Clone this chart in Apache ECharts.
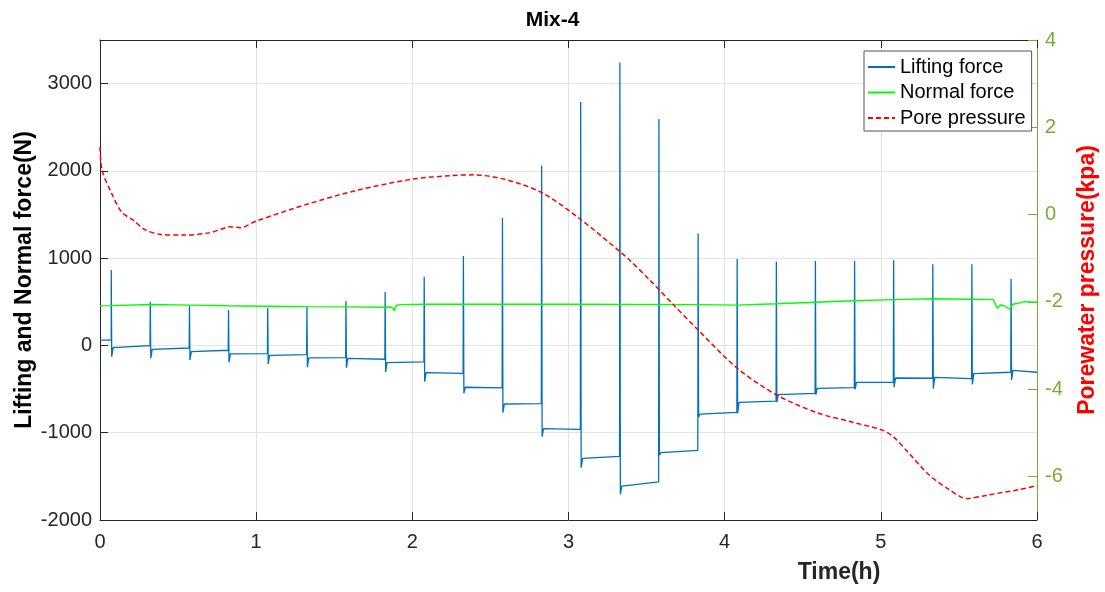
<!DOCTYPE html>
<html>
<head>
<meta charset="utf-8">
<title>Mix-4</title>
<script src="https://cdn.jsdelivr.net/npm/echarts@6/dist/echarts.min.js"></script>
<style>
  html, body { margin: 0; padding: 0; background: #ffffff; }
  #chart { width: 1105px; height: 592px; }
</style>
</head>
<body>
<div id="chart"></div>
<script>
// ---- Lifting force: loading cycles (h, N) ----
const initialLift = 60;
const spikeTimes = [0.072, 0.322, 0.573, 0.823, 1.074, 1.325, 1.575, 1.826, 2.076, 2.327, 2.577, 2.828,
                    3.078, 3.329, 3.579, 3.830, 4.080, 4.331, 4.581, 4.832, 5.082, 5.333, 5.583, 5.834];
const spikePeaks = [866, 502, 453, 407, 430, 445, 510, 613, 786, 1026, 1459, 2062,
                    2789, 3243, 2594, 1282, 992, 961, 969, 969, 975, 931, 931, 763];
const spikeTroughs = [-128, -147, -166, -193, -212, -250, -254, -304, -415, -548, -770, -1046,
                      -1401, -1706, -1256, -823, -778, -650, -564, -502, -479, -495, -445, -396];
const levelStart = [-25, -44, -71, -97, -113, -143, -147, -197, -312, -479, -671, -954,
                    -1294, -1611, -1229, -786, -652, -564, -491, -422, -373, -365, -323, -285];
const levelEnd = [-2, -29, -55, -94, -105, -140, -158, -189, -319, -487, -667, -961,
                  -1271, -1562, -1202, -766, -637, -548, -484, -422, -376, -381, -307, -307];

// ---- Normal force (h, N) ----
const normalTime = [0, 0.072, 0.073, 0.322, 0.573, 0.823, 1.074, 1.325, 1.575, 1.826, 1.86, 1.875, 1.885,
                    1.895, 1.92, 2.076, 3.0, 3.83, 4.079, 4.081, 4.33, 4.332, 4.58, 4.582, 4.83, 4.833,
                    5.08, 5.083, 5.33, 5.58, 5.72, 5.745, 5.765, 5.79, 5.80, 5.825, 5.845, 5.87, 5.92, 6.0];
const normalForce = [453, 456, 476, 470, 462, 455, 450, 445, 442, 438, 440, 430, 396,
                     455, 468, 472, 472, 468, 462, 476, 478, 491, 495, 510, 512, 522,
                     525, 533, 535, 530, 525, 427, 464, 455, 440, 415, 472, 480, 502, 495];

// ---- Pore water pressure (h, kPa) ----
const poreTime = [0, 0.013, 0.07, 0.14, 0.21, 0.29, 0.38, 0.54, 0.70, 0.78, 0.83, 0.90, 1.0, 1.33, 1.65,
                  2.0, 2.24, 2.39, 2.61, 2.83, 3.07, 3.33, 3.39, 3.52, 3.67, 3.82, 4.08, 4.33, 4.59,
                  4.82, 5.01, 5.08, 5.17, 5.31, 5.44, 5.55, 5.68, 5.89, 6.0];
const porePressure = [1.55, 1.02, 0.52, 0.05, -0.12, -0.35, -0.45, -0.47, -0.42, -0.33, -0.28, -0.30, -0.15, 0.24, 0.56,
                      0.81, 0.89, 0.91, 0.79, 0.50, -0.09, -0.85, -1.04, -1.50, -2.06, -2.61, -3.52, -4.13, -4.54,
                      -4.76, -4.94, -5.09, -5.43, -5.97, -6.31, -6.51, -6.43, -6.30, -6.21];

// ---- Axis tick values ----
const timeTicks = [0, 1, 2, 3, 4, 5, 6];
const forceTicks = [-2000, -1000, 0, 1000, 2000, 3000];
const pressureTicks = [-6, -4, -2, 0, 2, 4];

// Build the lifting-force trace: each cycle jumps up to its peak, drops to the trough,
// then settles on the new holding level until the next cycle.
const liftingData = [[0, initialLift]];
let prev = initialLift;
for (let k = 0; k < spikeTimes.length; k++) {
  const t = spikeTimes[k];
  const next = k + 1 < spikeTimes.length ? spikeTimes[k + 1] - 0.002 : 6;
  liftingData.push([t, prev]);
  liftingData.push([t, spikePeaks[k]]);
  liftingData.push([t + 0.003, spikeTroughs[k]]);
  liftingData.push([t + 0.012, levelStart[k]]);
  liftingData.push([next, levelEnd[k]]);
  prev = levelEnd[k];
}
const normalData = normalTime.map((t, i) => [t, normalForce[i]]);
const poreData = poreTime.map((t, i) => [t, porePressure[i]]);

const FONT = 'Liberation Sans, Arial, Helvetica, sans-serif';
const DARK = '#262626';
const GRID = '#e3e3e3';
const RIGHT_COLOR = '#77AC30';
const plain = v => String(v);

const chart = echarts.init(document.getElementById('chart'), null, { renderer: 'canvas' });
chart.setOption({
  animation: false,
  backgroundColor: '#ffffff',
  textStyle: { fontFamily: FONT },
  title: {
    text: 'Mix-4',
    left: 'center',
    top: 5,
    textStyle: { fontFamily: FONT, fontSize: 21, fontWeight: 'bold', color: '#000' }
  },
  legend: {
    orient: 'vertical',
    left: 864,
    top: 51,
    padding: [6, 6, 3, 3],
    itemGap: 5.5,
    itemWidth: 27,
    itemHeight: 20,
    backgroundColor: '#ffffff',
    borderColor: '#555555',
    borderWidth: 1,
    borderRadius: 0,
    itemStyle: { color: 'transparent', borderColor: 'transparent', borderWidth: 0, opacity: 0 },
    textStyle: { fontFamily: FONT, fontSize: 20, color: '#000' },
    data: ['Lifting force', 'Normal force', 'Pore pressure']
  },
  grid: { left: 100, right: 68, top: 40, bottom: 72, containLabel: false, outerBoundsMode: 'none' },
  xAxis: [
    {
      type: 'value', min: 0, max: 6, interval: 1, position: 'bottom',
      name: 'Time(h)', nameLocation: 'middle', nameGap: 41, nameMoveOverlap: false,
      nameTextStyle: { fontFamily: FONT, fontSize: 23, fontWeight: 'bold', color: DARK, padding: [0, 0, 0, 541] },
      axisLine: { show: true, onZero: false, lineStyle: { color: DARK, width: 1 } },
      axisTick: { show: true, inside: true, length: 8, lineStyle: { color: DARK }, customValues: timeTicks },
      axisLabel: { show: true, margin: 12, fontFamily: FONT, fontSize: 20, color: DARK, formatter: plain, customValues: timeTicks },
      splitLine: { show: true, lineStyle: { color: GRID, width: 1 } }
    },
    {
      type: 'value', min: 0, max: 6, interval: 1, position: 'top',
      axisLine: { show: true, onZero: false, lineStyle: { color: DARK, width: 1 } },
      axisTick: { show: true, inside: true, length: 8, lineStyle: { color: DARK }, customValues: timeTicks },
      axisLabel: { show: false },
      splitLine: { show: false }
    }
  ],
  yAxis: [
    {
      type: 'value', min: -2000, max: 3500, interval: 1000, position: 'left',
      name: 'Lifting and Normal force(N)', nameLocation: 'middle', nameGap: 64, nameMoveOverlap: false,
      nameTextStyle: { fontFamily: FONT, fontSize: 23, fontWeight: 'bold', color: '#000' },
      axisLine: { show: true, onZero: false, lineStyle: { color: DARK, width: 1 } },
      axisTick: { show: true, inside: true, length: 8, lineStyle: { color: DARK }, customValues: forceTicks },
      axisLabel: { show: true, margin: 8, fontFamily: FONT, fontSize: 20, color: DARK, formatter: plain, customValues: forceTicks },
      splitLine: { show: true, lineStyle: { color: GRID, width: 1 } }
    },
    {
      type: 'value', min: -7, max: 4, interval: 1, position: 'right',
      name: 'Porewater pressure(kpa)', nameLocation: 'middle', nameGap: 39,
      nameTextStyle: { fontFamily: FONT, fontSize: 23, fontWeight: 'bold', color: '#ff0000' },
      axisLine: { show: true, onZero: false, lineStyle: { color: RIGHT_COLOR, width: 1 } },
      axisTick: { show: true, inside: true, length: 9, lineStyle: { color: RIGHT_COLOR }, customValues: pressureTicks },
      axisLabel: { show: true, margin: 8, fontFamily: FONT, fontSize: 20, color: RIGHT_COLOR, formatter: plain, customValues: pressureTicks },
      splitLine: { show: false }
    }
  ],
  series: [
    {
      name: 'Lifting force', type: 'line', xAxisIndex: 0, yAxisIndex: 0,
      data: liftingData, showSymbol: false, symbol: 'none',
      lineStyle: { color: '#0072BD', width: 1.3 }, itemStyle: { color: '#0072BD' },
      z: 3
    },
    {
      name: 'Normal force', type: 'line', xAxisIndex: 0, yAxisIndex: 0,
      data: normalData, showSymbol: false, symbol: 'none',
      lineStyle: { color: '#00ff00', width: 1.4 }, itemStyle: { color: '#00ff00' },
      z: 4
    },
    {
      name: 'Pore pressure', type: 'line', xAxisIndex: 0, yAxisIndex: 1,
      data: poreData, showSymbol: false, symbol: 'none', smooth: 0.3,
      lineStyle: { color: '#ff0000', width: 1.5, type: [5, 3] }, itemStyle: { color: '#ff0000' },
      z: 5
    }
  ]
});
</script>
</body>
</html>
